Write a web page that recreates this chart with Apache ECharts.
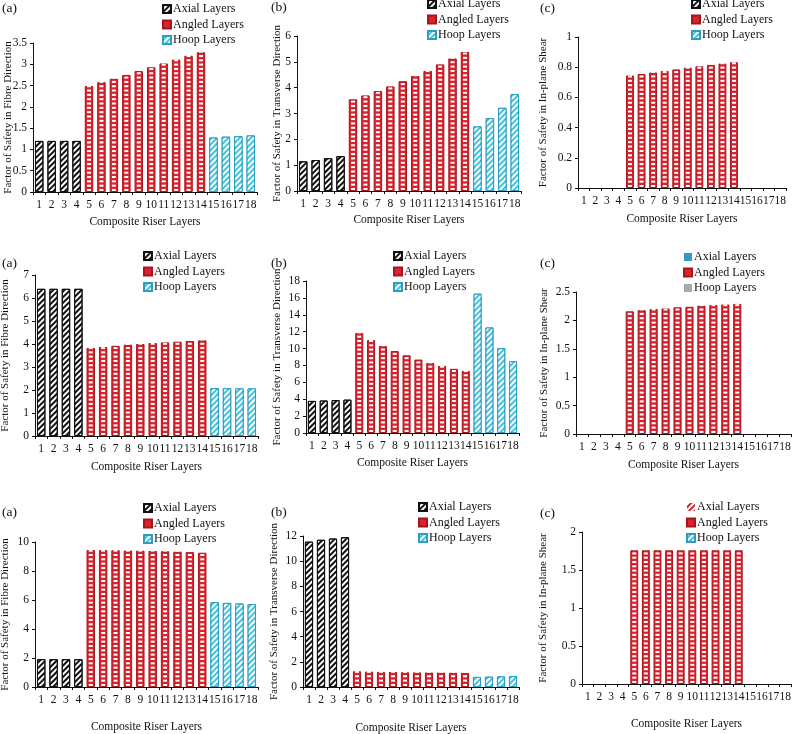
<!DOCTYPE html>
<html>
<head>
<meta charset="utf-8">
<script src="https://cdn.jsdelivr.net/npm/echarts@6/dist/echarts.min.js"></script>
<style>
  body { margin: 0; background: #fff; }
  .p { position: absolute; }
</style>
</head>
<body>
<div class="p" id="p1" style="left:0;top:0;width:264px;height:240px"></div>
<div class="p" id="p2" style="left:264px;top:0;width:264px;height:240px"></div>
<div class="p" id="p3" style="left:528px;top:0;width:264px;height:240px"></div>
<div class="p" id="p4" style="left:0;top:240px;width:264px;height:244px"></div>
<div class="p" id="p5" style="left:264px;top:240px;width:264px;height:244px"></div>
<div class="p" id="p6" style="left:528px;top:240px;width:264px;height:244px"></div>
<div class="p" id="p7" style="left:0;top:484px;width:264px;height:250px"></div>
<div class="p" id="p8" style="left:264px;top:484px;width:264px;height:250px"></div>
<div class="p" id="p9" style="left:528px;top:484px;width:264px;height:250px"></div>
<script>
// layer numbers
var layers = ['1','2','3','4','5','6','7','8','9','10','11','12','13','14','15','16','17','18'];
var legendNames = ['Axial Layers', 'Angled Layers', 'Hoop Layers'];

// row 1
var r1FibreAxial = [1.2, 1.2, 1.2, 1.2];
var r1FibreAngled = [2.49, 2.58, 2.66, 2.75, 2.84, 2.93, 3.02, 3.11, 3.2, 3.28];
var r1FibreHoop = [1.28, 1.3, 1.31, 1.33];
var r1TransAxial = [1.15, 1.2, 1.27, 1.35];
var r1TransAngled = [3.55, 3.7, 3.87, 4.05, 4.25, 4.45, 4.65, 4.9, 5.13, 5.38];
var r1TransHoop = [2.5, 2.82, 3.22, 3.75];
var r1ShearAngled = [0.745, 0.755, 0.765, 0.775, 0.785, 0.797, 0.806, 0.815, 0.824, 0.833];

// row 2
var r2FibreAxial = [6.4, 6.4, 6.4, 6.4];
var r2FibreAngled = [3.83, 3.87, 3.92, 3.97, 4.0, 4.04, 4.07, 4.1, 4.13, 4.16];
var r2FibreHoop = [2.08, 2.08, 2.07, 2.07];
var r2TransAxial = [3.8, 3.85, 3.9, 3.95];
var r2TransAngled = [11.85, 11.0, 10.3, 9.7, 9.2, 8.7, 8.3, 7.95, 7.6, 7.35];
var r2TransHoop = [16.5, 12.5, 10.05, 8.5];
var r2ShearAngled = [2.16, 2.18, 2.2, 2.21, 2.23, 2.24, 2.26, 2.27, 2.28, 2.29];

// row 3
var r3FibreAxial = [1.92, 1.92, 1.92, 1.92];
var r3FibreAngled = [9.45, 9.44, 9.43, 9.41, 9.4, 9.38, 9.36, 9.33, 9.3, 9.26];
var r3FibreHoop = [5.85, 5.8, 5.76, 5.72];
var r3TransAxial = [11.55, 11.7, 11.8, 11.9];
var r3TransAngled = [1.25, 1.22, 1.2, 1.19, 1.17, 1.16, 1.15, 1.14, 1.13, 1.12];
var r3TransHoop = [0.8, 0.82, 0.84, 0.86];
var r3ShearAngled = [1.76, 1.76, 1.76, 1.76, 1.76, 1.76, 1.76, 1.76, 1.76, 1.76];

var FONT = 'Liberation Serif';

// spread the three groups over layers 1-4, 5-14, 15-18
function spread(vals, from) {
  var out = [];
  for (var i = 0; i < layers.length; i++) {
    var k = i - from;
    out.push(k >= 0 && k < vals.length ? vals[k] : null);
  }
  return out;
}

function stripes(col) {
  return { color: col, symbol: 'rect', symbolSize: 1, dashArrayX: [1, 0], dashArrayY: [2, 2], rotation: -Math.PI / 4 };
}

function makePanel(id, p) {
  var chart = echarts.init(document.getElementById(id));
  var axial = spread(p.axial, 0);
  var angled = spread(p.angled, 4);
  var hoop = spread(p.hoop, 14);
  var axialStyle = p.axialStyle || { color: '#fff', borderColor: '#111', borderWidth: 1, decal: stripes('#111') };
  var hoopStyle = p.hoopStyle || { color: '#42c3df', borderColor: '#2a9fc0', borderWidth: 1, decal: stripes('#fff') };
  var option = {
    animation: false,
    title: {
      text: p.tag, left: p.tagX, top: p.tagY, padding: 0,
      textStyle: { fontFamily: FONT, fontSize: 13.5, fontWeight: 'normal', color: '#111' }
    },
    legend: {
      data: legendNames, orient: 'vertical', left: p.legX, top: p.legY, padding: 0,
      itemWidth: 8, itemHeight: 8, itemGap: 3.5, icon: 'rect',
      textStyle: { fontFamily: FONT, fontSize: 12, color: '#111', padding: [0, 0, 0, -3] }
    },
    grid: { left: p.grid[0], top: p.grid[1], right: p.grid[2], bottom: p.grid[3], outerBoundsMode: 'none' },
    xAxis: {
      type: 'category', data: layers,
      name: 'Composite Riser Layers', nameLocation: 'middle', nameGap: p.xGap, nameMoveOverlap: false,
      nameTextStyle: { fontFamily: FONT, fontSize: 11.5, color: '#111' },
      axisLine: { lineStyle: { color: '#111' } },
      axisTick: { show: true, length: 3, lineStyle: { color: '#111' } },
      axisLabel: { interval: 0, fontFamily: FONT, fontSize: 11.5, color: '#111', margin: 7 }
    },
    yAxis: {
      type: 'value', min: 0, max: p.max, interval: p.step,
      name: p.yName, nameLocation: 'middle', nameGap: p.yGap, nameMoveOverlap: false,
      nameTextStyle: { fontFamily: FONT, fontSize: 11, color: '#111' },
      axisLine: { show: true, lineStyle: { color: '#111' } },
      axisTick: { show: true, length: 3, lineStyle: { color: '#111' } },
      axisLabel: { fontFamily: FONT, fontSize: 11.5, color: '#111', margin: 6 },
      splitLine: { show: false }
    },
    series: [
      { name: 'Axial Layers', type: 'bar', data: axial, barWidth: '68%', barGap: '-100%', itemStyle: axialStyle },
      { name: 'Angled Layers', type: 'bar', data: angled, barWidth: '68%', barGap: '-100%',
        itemStyle: { color: '#d7242f', borderColor: '#a8141c', borderWidth: 1 } },
      { name: 'Hoop Layers', type: 'bar', data: hoop, barWidth: '68%', barGap: '-100%', itemStyle: hoopStyle },
      // white dashes inside the angled bars
      { name: 'dash', type: 'pictorialBar', data: angled, symbol: 'rect', symbolRepeat: true,
        symbolSize: [4, 2], symbolMargin: 1.2, symbolOffset: [0, -1], silent: true, z: 5,
        itemStyle: { color: '#fff' } }
    ]
  };
  chart.setOption(option);
}

makePanel('p1', { tag: '(a)', tagX: 2, tagY: 1, legX: 162, legY: 3, grid: [33, 43, 7, 48], xGap: 24, yGap: 19.5,
  max: 3.5, step: 0.5, yName: 'Factor of Safety in Fibre Direction',
  axial: r1FibreAxial, angled: r1FibreAngled, hoop: r1FibreHoop });
makePanel('p2', { tag: '(b)', tagX: 7, tagY: 0, legX: 163, legY: -2, grid: [33, 36, 7, 49], xGap: 23, yGap: 14.5,
  max: 6, step: 1, yName: 'Factor of Safety in Transverse Direction',
  axial: r1TransAxial, angled: r1TransAngled, hoop: r1TransHoop });
makePanel('p3', { tag: '(c)', tagX: 12, tagY: 1, legX: 163, legY: -2, grid: [50, 37, 6, 52], xGap: 25, yGap: 29.5,
  max: 1, step: 0.2, yName: 'Factor of Safety in In-plane Shear',
  axial: [], angled: r1ShearAngled, hoop: [] });

makePanel('p4', { tag: '(a)', tagX: 2, tagY: 16, legX: 143, legY: 10, grid: [35, 35, 6, 48], xGap: 25, yGap: 24.5,
  max: 7, step: 1, yName: 'Factor of Safety in Fibre Direction',
  axial: r2FibreAxial, angled: r2FibreAngled, hoop: r2FibreHoop });
makePanel('p5', { tag: '(b)', tagX: 7, tagY: 16, legX: 129, legY: 10, grid: [42, 41, 9, 51], xGap: 24, yGap: 23.5,
  max: 18, step: 2, yName: 'Factor of Safety in Transverse Direction',
  axial: r2TransAxial, angled: r2TransAngled, hoop: r2TransHoop });
makePanel('p6', { tag: '(c)', tagX: 12, tagY: 16, legX: 155, legY: 11, grid: [48, 52, 1, 50], xGap: 25, yGap: 26.5,
  max: 2.5, step: 0.5, yName: 'Factor of Safety in In-plane Shear',
  axial: [], angled: r2ShearAngled, hoop: [],
  axialStyle: { color: '#2e9cc0' }, hoopStyle: { color: '#aaaaaa' } });

makePanel('p7', { tag: '(a)', tagX: 2, tagY: 21, legX: 143, legY: 18, grid: [35, 58, 6, 47], xGap: 34, yGap: 24.5,
  max: 10, step: 2, yName: 'Factor of Safety in Fibre Direction',
  axial: r3FibreAxial, angled: r3FibreAngled, hoop: r3FibreHoop });
makePanel('p8', { tag: '(b)', tagX: 7, tagY: 21, legX: 154, legY: 17, grid: [39, 52, 9, 47], xGap: 35, yGap: 23.5,
  max: 12, step: 2, yName: 'Factor of Safety in Transverse Direction',
  axial: r3TransAxial, angled: r3TransAngled, hoop: r3TransHoop });
makePanel('p9', { tag: '(c)', tagX: 12, tagY: 22, legX: 158, legY: 17, grid: [54, 48, 1, 50], xGap: 34, yGap: 33.5,
  max: 2, step: 0.5, yName: 'Factor of Safety in In-plane Shear',
  axial: [], angled: r3ShearAngled, hoop: [],
  axialStyle: { color: '#d7242f', decal: stripes('#fff') } });
</script>
</body>
</html>
